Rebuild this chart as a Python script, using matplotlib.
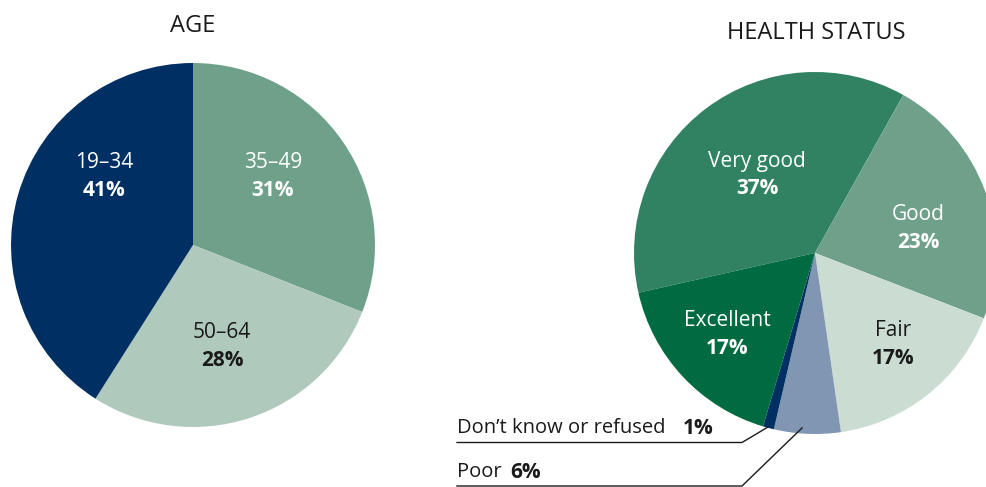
import matplotlib
matplotlib.use("Agg")
import matplotlib.pyplot as plt

plt.rcParams['font.family'] = ['Open Sans', 'DejaVu Sans']

W, H = 987, 487

# Data
age_labels = ["35–49", "50–64", "19–34"]
age_values = [31, 28, 41]
age_colors = ["#6FA18A", "#B0C9BD", "#003063"]
age_text_colors = ["white", "#1a1a1a", "white"]

health_labels = ["Very good", "Good", "Fair", "Poor", "Don’t know or refused", "Excellent"]
health_values = [37, 23, 17, 6, 1, 17]
health_colors = ["#318262", "#6FA18A", "#CBDDD3", "#8096B2", "#003063", "#006A40"]

fig = plt.figure(figsize=(W / 100, H / 100), dpi=100)
ax = fig.add_axes([0, 0, 1, 1])

def Y(y):
    return H - y

# Left pie
ax.pie(age_values, colors=age_colors, startangle=90, counterclock=False,
       center=(193, Y(245)), radius=182, wedgeprops=dict(linewidth=0))
# Right pie
ax.pie(health_values, colors=health_colors, startangle=192.7, counterclock=False,
       center=(815, Y(253)), radius=181, wedgeprops=dict(linewidth=0))

ax.set_xlim(0, W)
ax.set_ylim(0, H)
ax.set_aspect('equal')
ax.axis('off')

fs = 15
ofs = 14.5
tfs = 17
# titles
ax.text(193, Y(26), "AGE", ha='center', va='center', fontsize=tfs, color='#1a1a1a')
ax.text(816, Y(33), "HEALTH STATUS", ha='center', va='center', fontsize=tfs, color='#1a1a1a')

# in-slice labels
age_pos = [(273, 163), (222, 332), (104, 163)]
for lab, v, (x, y), c in zip(age_labels, age_values, age_pos, age_text_colors):
    ax.text(x, Y(y), lab, ha='center', va='center', fontsize=fs, color=c)
    ax.text(x, Y(y + 28), f"{v}%", ha='center', va='center', fontsize=fs, color=c, fontweight='bold')

inside = {"Very good": ((757, 161), "white"), "Good": ((918, 215), "white"),
          "Fair": ((893, 331), "#1a1a1a"), "Excellent": ((727, 320), "white")}
for lab, v in zip(health_labels, health_values):
    if lab in inside:
        (x, y), c = inside[lab]
        ax.text(x, Y(y), lab, ha='center', va='center', fontsize=fs, color=c)
        ax.text(x, Y(y + 28), f"{v}%", ha='center', va='center', fontsize=fs, color=c, fontweight='bold')

# outside labels with leader lines
dk_i = health_labels.index("Don’t know or refused")
poor_i = health_labels.index("Poor")
ax.text(457, Y(428), health_labels[dk_i], ha='left', va='center', fontsize=ofs, color='#1a1a1a')
ax.text(683, Y(428), f"{health_values[dk_i]}%", ha='left', va='center', fontsize=fs, color='#1a1a1a', fontweight='bold')
ax.plot([457, 742, 768], [Y(442.5), Y(442.5), Y(427)], color='#1a1a1a', lw=1)

ax.text(457, Y(472), health_labels[poor_i], ha='left', va='center', fontsize=ofs, color='#1a1a1a')
ax.text(510, Y(472), f"{health_values[poor_i]}%", ha='left', va='center', fontsize=fs, color='#1a1a1a', fontweight='bold')
ax.plot([457, 742, 802], [Y(486), Y(486), Y(428)], color='#1a1a1a', lw=1, clip_on=False)

fig.savefig("out.png", dpi=100)
